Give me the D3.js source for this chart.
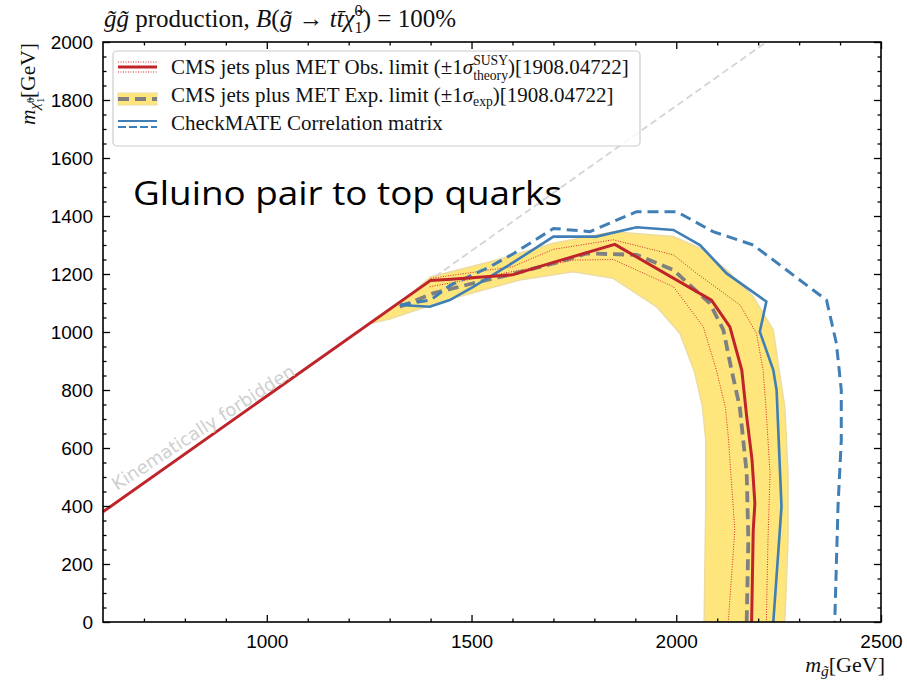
<!DOCTYPE html>
<html>
<head>
<meta charset="utf-8">
<script src="https://cdn.jsdelivr.net/npm/d3@7"></script>
<style>
  body { margin: 0; background: #fff; }
  text { white-space: pre; }
</style>
</head>
<body>
<div id="chart"></div>
<script>

// kinematic boundary m_chi = m_gluino - 220
const kinX = [600, 2220];
const kinY = [380, 2000];

// CMS observed limit
const obsX = [600, 1400, 1450, 1600, 1700, 1850, 2086, 2131, 2160, 2172, 2185, 2192, 2188, 2184];
const obsY = [380, 1178, 1182, 1197, 1240, 1302, 1110, 1018, 869, 708, 560, 409, 317, 0];
// observed +/- 1 sigma theory
const obsUpX = [1400, 1600, 1700, 1846, 1993, 2050, 2156, 2196, 2212, 2219, 2229, 2224, 2220];
const obsUpY = [1185, 1225, 1285, 1318, 1266, 1202, 1093, 995, 869, 742, 513, 283, 0];
const obsDnX = [1398, 1550, 1750, 1846, 1993, 2066, 2098, 2120, 2127, 2143, 2127];
const obsDnY = [1156, 1195, 1248, 1250, 1156, 1018, 869, 740, 640, 317, 0];

// CMS expected limit and +/- 1 sigma band
const expX = [1325, 1406, 1504, 1600, 1716, 1781, 1903, 1993, 2082, 2115, 2135, 2155, 2172, 2176, 2172];
const expY = [1087, 1133, 1168, 1200, 1242, 1271, 1266, 1214, 1099, 1007, 869, 742, 513, 283, 0];
const bandUpX = [1255, 1330, 1400, 1545, 1700, 1846, 1993, 2058, 2123, 2188, 2237, 2250, 2265, 2273, 2273, 2265];
const bandUpY = [1030, 1105, 1190, 1242, 1306, 1346, 1329, 1289, 1214, 1122, 1007, 880, 742, 513, 283, 0];
const bandDnX = [1255, 1300, 1439, 1618, 1748, 1846, 1952, 2009, 2045, 2064, 2072, 2072, 2068];
const bandDnY = [1030, 1045, 1110, 1179, 1208, 1185, 1087, 995, 860, 742, 628, 400, 0];

// CheckMATE correlation matrix
const cmX = [1325, 1398, 1447, 1504, 1602, 1700, 1805, 1903, 1993, 2058, 2123, 2220, 2204, 2237, 2245, 2257, 2237];
const cmY = [1093, 1087, 1110, 1156, 1240, 1329, 1329, 1361, 1352, 1300, 1202, 1105, 1001, 869, 800, 398, 0];
const cmDashX = [1325, 1400, 1447, 1545, 1602, 1700, 1789, 1903, 2001, 2090, 2188, 2367, 2391, 2403, 2403, 2395, 2387];
const cmDashY = [1093, 1110, 1160, 1225, 1270, 1357, 1346, 1415, 1415, 1346, 1300, 1110, 961, 800, 628, 398, 0];

const xMajor = [1000, 1500, 2000, 2500];
const yMajor = [0, 200, 400, 600, 800, 1000, 1200, 1400, 1600, 1800, 2000];

const serif = "'Liberation Serif','DejaVu Serif',serif";
const sans = "'Liberation Sans',Arial,sans-serif";

const width = 907, height = 687;
const svg = d3.select("#chart").append("svg")
	.attr("width", width)
	.attr("height", height);

const x = d3.scaleLinear().domain([600, 2500]).range([103, 881]);
const y = d3.scaleLinear().domain([0, 2000]).range([622, 42]);

const zip = (a, b) => a.map((v, i) => [v, b[i]]);
const line = d3.line().x(d => x(d[0])).y(d => y(d[1]));

const plot = svg.append("g");
plot.append("clipPath").attr("id", "clip")
	.append("rect").attr("x", 103).attr("y", 42).attr("width", 778).attr("height", 580);
const body = plot.append("g").attr("clip-path", "url(#clip)");

// yellow band
const band = zip(bandUpX, bandUpY).concat(zip(bandDnX, bandDnY).reverse());
body.append("path")
	.attr("d", line(band) + "Z")
	.attr("fill", "#fee67c")
	.attr("stroke", "#ecdca0")
	.attr("stroke-width", 1.5);

// diagonal
body.append("path")
	.attr("d", line(zip(kinX, kinY)))
	.attr("fill", "none")
	.attr("stroke", "#d4d4d4")
	.attr("stroke-width", 1.8)
	.attr("stroke-dasharray", "7,4");

// kinematically forbidden label
svg.append("text")
	.attr("transform", "translate(117,491) rotate(-33)")
	.attr("font-family", "'DejaVu Sans',sans-serif")
	.attr("font-size", 18)
	.attr("fill", "#cfcfcf")
	.text("Kinematically forbidden");

// red dotted theory lines
[[obsUpX, obsUpY], [obsDnX, obsDnY]].forEach(p => {
	body.append("path")
		.attr("d", line(zip(p[0], p[1])))
		.attr("fill", "none")
		.attr("stroke", "#d62728")
		.attr("stroke-width", 1)
		.attr("stroke-dasharray", "1,1.5");
});

// expected
body.append("path")
	.attr("d", line(zip(expX, expY)))
	.attr("fill", "none")
	.attr("stroke", "#808080")
	.attr("stroke-width", 3.8)
	.attr("stroke-dasharray", "11,6");

// checkmate
body.append("path")
	.attr("d", line(zip(cmX, cmY)))
	.attr("fill", "none")
	.attr("stroke", "#3f7fb5")
	.attr("stroke-width", 2.6);
body.append("path")
	.attr("d", line(zip(cmDashX, cmDashY)))
	.attr("fill", "none")
	.attr("stroke", "#3f7fb5")
	.attr("stroke-width", 3)
	.attr("stroke-dasharray", "11,6");

// observed
body.append("path")
	.attr("d", line(zip(obsX, obsY)))
	.attr("fill", "none")
	.attr("stroke", "#c0242b")
	.attr("stroke-width", 3);

// axes
function drawAxis(axis, tr) {
	const g = svg.append("g").attr("transform", tr).call(axis);
	g.select(".domain").remove();
	g.selectAll("line").attr("stroke", "#000").attr("stroke-width", 1.3);
	return g;
}
const xMinor = d3.range(700, 2500, 100).filter(v => v % 500 !== 0);
const yMinor = d3.range(50, 2000, 50).filter(v => v % 200 !== 0);
const fmt = d3.format("d");

drawAxis(d3.axisBottom(x).tickValues(xMajor).tickSize(-7).tickPadding(13).tickFormat(fmt), "translate(0,622)")
	.selectAll("text").attr("font-family", sans).attr("font-size", 19).attr("fill", "#000");
drawAxis(d3.axisBottom(x).tickValues(xMinor).tickSize(-3.5).tickFormat(""), "translate(0,622)");
drawAxis(d3.axisTop(x).tickValues(xMajor).tickSize(-7).tickFormat(""), "translate(0,42)");
drawAxis(d3.axisTop(x).tickValues(xMinor).tickSize(-3.5).tickFormat(""), "translate(0,42)");
drawAxis(d3.axisLeft(y).tickValues(yMajor).tickSize(-7).tickPadding(10).tickFormat(fmt), "translate(103,0)")
	.selectAll("text").attr("font-family", sans).attr("font-size", 19).attr("fill", "#000");
drawAxis(d3.axisLeft(y).tickValues(yMinor).tickSize(-3.5).tickFormat(""), "translate(103,0)");
drawAxis(d3.axisRight(y).tickValues(yMajor).tickSize(-7).tickFormat(""), "translate(881,0)");
drawAxis(d3.axisRight(y).tickValues(yMinor).tickSize(-3.5).tickFormat(""), "translate(881,0)");

svg.append("rect")
	.attr("x", 103).attr("y", 42).attr("width", 778).attr("height", 580)
	.attr("fill", "none").attr("stroke", "#000").attr("stroke-width", 1.6);

// rich text helper: pieces laid out left to right, "stack" puts a piece under the previous one
function rich(parent, parts, size) {
	const g = parent.append("g");
	let cx = 0, lastStart = 0;
	parts.forEach(p => {
		const startX = p.stack ? lastStart : cx;
		const t = g.append("text")
			.attr("x", startX)
			.attr("y", p.dy || 0)
			.attr("font-family", serif)
			.attr("font-size", size * (p.s || 1))
			.attr("font-style", p.i ? "italic" : "normal")
			.attr("fill", "#111")
			.text(p.t);
		const w = t.node().getComputedTextLength();
		if (p.stack) cx = Math.max(cx, startX + w);
		else { lastStart = startX; cx = startX + w; }
	});
	return { g: g, w: cx };
}

// title
rich(svg, [
	{ t: "g\u0303g\u0303", i: true }, { t: " production, " }, { t: "B", i: true }, { t: "(" },
	{ t: "g\u0303", i: true }, { t: " \u2192 " }, { t: "tt\u0304\u03c7\u0303", i: true },
	{ t: "0", s: 0.65, dy: -11 }, { t: "1", s: 0.65, dy: 6, stack: true }, { t: ") = 100%" }
], 25).g.attr("transform", "translate(104,27)");

// y label
const yl = rich(svg, [
	{ t: "m", i: true }, { t: "\u03c7\u0303", i: true, s: 0.7, dy: 4 },
	{ t: "0", s: 0.45, dy: -1 }, { t: "1", s: 0.45, dy: 9, stack: true }, { t: "[GeV]" }
], 21.5);
yl.g.attr("transform", `translate(35,${43 + yl.w}) rotate(-90)`);

// x label
const xl = rich(svg, [
	{ t: "m", i: true }, { t: "g\u0303", i: true, s: 0.7, dy: 4 }, { t: "[GeV]" }
], 22);
xl.g.attr("transform", `translate(${885 - xl.w},672)`);

// big annotation
svg.append("text")
	.attr("x", 133).attr("y", 205)
	.attr("font-family", "'Open Sans','Noto Sans',sans-serif")
	.attr("font-size", 32)
	.attr("textLength", 429)
	.attr("lengthAdjust", "spacingAndGlyphs")
	.attr("fill", "#000")
	.text("Gluino pair to top quarks");

// legend
const leg = svg.append("g");
leg.append("rect")
	.attr("x", 113).attr("y", 51).attr("width", 527).attr("height", 95)
	.attr("rx", 4)
	.attr("fill", "#fff").attr("fill-opacity", 0.8)
	.attr("stroke", "#cccccc").attr("stroke-width", 1.2);

const hx0 = 118, hx1 = 157;
leg.append("line").attr("x1", hx0).attr("x2", hx1).attr("y1", 67).attr("y2", 67)
	.attr("stroke", "#c0242b").attr("stroke-width", 3);
[62, 72].forEach(v => leg.append("line").attr("x1", hx0).attr("x2", hx1).attr("y1", v).attr("y2", v)
	.attr("stroke", "#d62728").attr("stroke-width", 1).attr("stroke-dasharray", "1,1.5"));
leg.append("rect").attr("x", hx0).attr("y", 93).attr("width", hx1 - hx0).attr("height", 12)
	.attr("fill", "#fee67c").attr("stroke", "#ecdca0");
leg.append("line").attr("x1", hx0).attr("x2", hx1).attr("y1", 99).attr("y2", 99)
	.attr("stroke", "#808080").attr("stroke-width", 3.8).attr("stroke-dasharray", "11,6");
leg.append("line").attr("x1", hx0).attr("x2", hx1).attr("y1", 121).attr("y2", 121)
	.attr("stroke", "#3f7fb5").attr("stroke-width", 2);
leg.append("line").attr("x1", hx0).attr("x2", hx1).attr("y1", 127).attr("y2", 127)
	.attr("stroke", "#3f7fb5").attr("stroke-width", 2).attr("stroke-dasharray", "8,3");

rich(leg, [
	{ t: "CMS jets plus MET Obs. limit (\u00b11" }, { t: "\u03c3", i: true },
	{ t: "SUSY", s: 0.65, dy: -9 }, { t: "theory", s: 0.65, dy: 6, stack: true }, { t: ")[1908.04722]" }
], 21).g.attr("transform", "translate(171,74)");
rich(leg, [
	{ t: "CMS jets plus MET Exp. limit (\u00b11" }, { t: "\u03c3", i: true },
	{ t: "exp", s: 0.65, dy: 4 }, { t: ")[1908.04722]" }
], 21).g.attr("transform", "translate(171,102)");
rich(leg, [{ t: "CheckMATE Correlation matrix" }], 21).g.attr("transform", "translate(171,130)");

</script>
</body>
</html>
